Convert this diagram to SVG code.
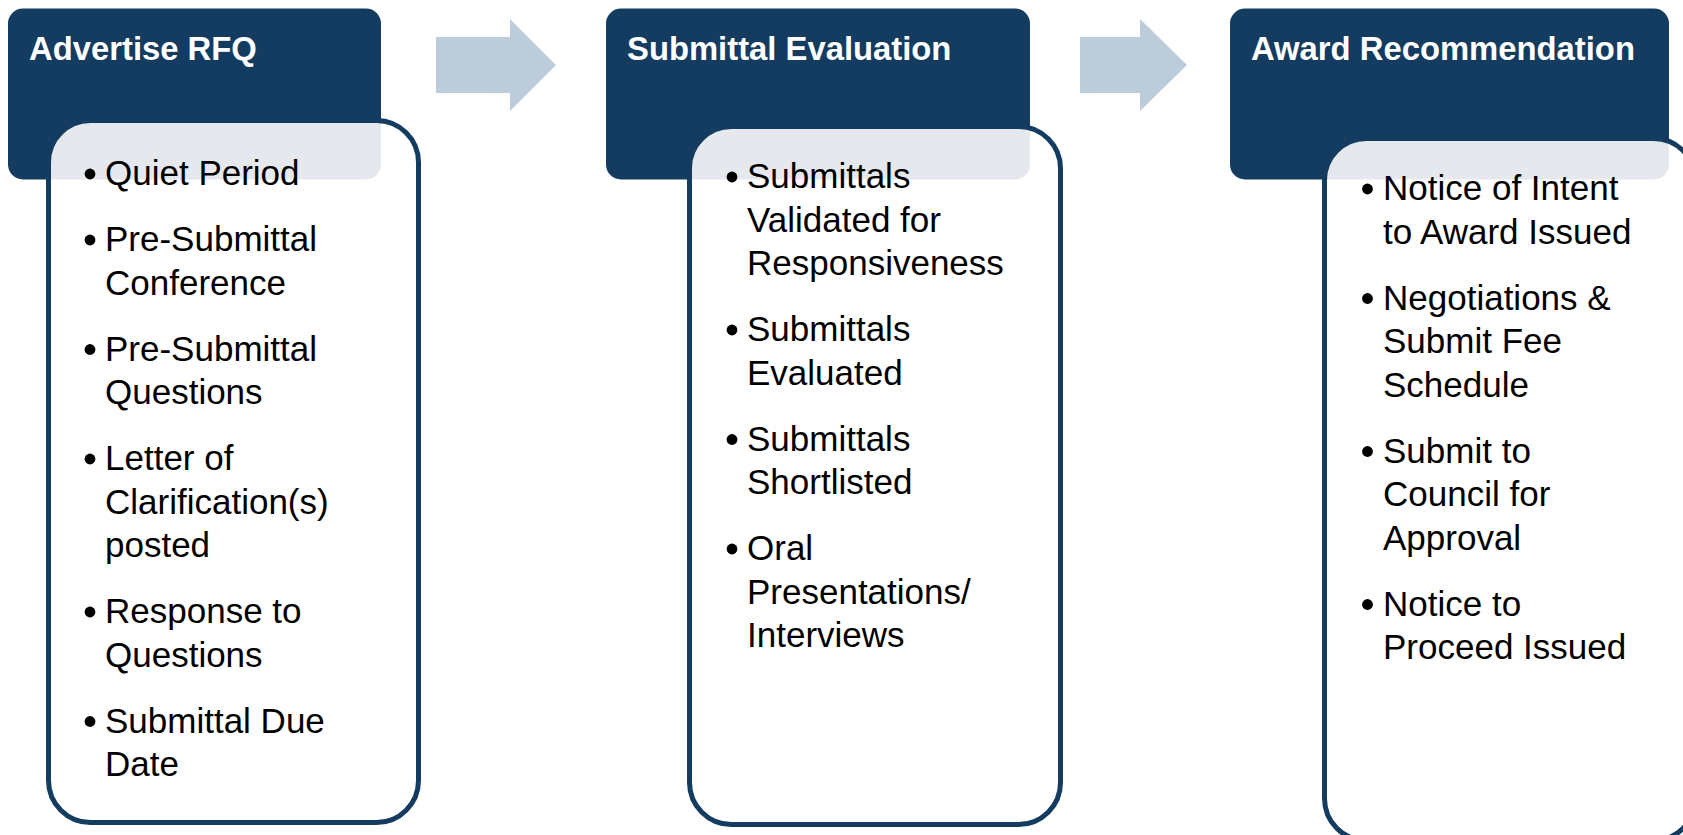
<svg xmlns="http://www.w3.org/2000/svg" width="1683" height="835" viewBox="0 0 1683 835">
<style>
.hdr{fill:#143C61}
.card{fill:#FFFFFF;fill-opacity:0.89;stroke:#143C61;stroke-width:5}
.arrow{fill:#BDCCDA}
.title{font-family:"Liberation Sans",Arial,sans-serif;font-weight:bold;font-size:32.8px;fill:#FFFFFF}
.body{font-family:"Liberation Sans",Arial,sans-serif;font-size:35px;fill:#000000}
.dot{fill:#000000}
</style>
<rect width="1683" height="835" fill="#FFFFFF"/>
<g id="connectors">
<polygon class="arrow" points="436,37 510,37 510,19 556,65 510,111 510,93 436,93"/>
<polygon class="arrow" points="1080,37 1140,37 1140,19 1187,65 1140,111 1140,93 1080,93"/>
</g>
<g id="advertise-rfq">
<rect class="hdr" x="8" y="8.5" width="373" height="171" rx="15"/>
<text class="title" x="29" y="60">Advertise RFQ</text>
<rect class="card" x="48.5" y="120.5" width="370" height="702" rx="42"/>
<g class="body">
<circle class="dot" cx="90" cy="174" r="5.4"/><text x="105" y="185">Quiet Period</text>
<circle class="dot" cx="90" cy="240" r="5.4"/><text x="105" y="251">Pre-Submittal</text><text x="105" y="294.5">Conference</text>
<circle class="dot" cx="90" cy="349.5" r="5.4"/><text x="105" y="360.5">Pre-Submittal</text><text x="105" y="404">Questions</text>
<circle class="dot" cx="90" cy="459" r="5.4"/><text x="105" y="470">Letter of</text><text x="105" y="513.5">Clarification(s)</text><text x="105" y="557">posted</text>
<circle class="dot" cx="90" cy="612" r="5.4"/><text x="105" y="623">Response to</text><text x="105" y="666.5">Questions</text>
<circle class="dot" cx="90" cy="721.5" r="5.4"/><text x="105" y="732.5">Submittal Due</text><text x="105" y="776">Date</text>
</g>
</g>
<g id="submittal-evaluation">
<rect class="hdr" x="606" y="8.5" width="424" height="171" rx="15"/>
<text class="title" x="627" y="60">Submittal Evaluation</text>
<rect class="card" x="689.5" y="126.5" width="371" height="698" rx="42"/>
<g class="body">
<circle class="dot" cx="732" cy="177" r="5.4"/><text x="747" y="188">Submittals</text><text x="747" y="231.5">Validated for</text><text x="747" y="275">Responsiveness</text>
<circle class="dot" cx="732" cy="330" r="5.4"/><text x="747" y="341">Submittals</text><text x="747" y="384.5">Evaluated</text>
<circle class="dot" cx="732" cy="439.5" r="5.4"/><text x="747" y="450.5">Submittals</text><text x="747" y="494">Shortlisted</text>
<circle class="dot" cx="732" cy="549" r="5.4"/><text x="747" y="560">Oral</text><text x="747" y="603.5">Presentations/</text><text x="747" y="647">Interviews</text>
</g>
</g>
<g id="award-recommendation">
<rect class="hdr" x="1230" y="8.5" width="439" height="171" rx="15"/>
<text class="title" x="1251" y="60">Award Recommendation</text>
<rect class="card" x="1324.5" y="138.5" width="371" height="702" rx="42"/>
<g class="body">
<circle class="dot" cx="1367.5" cy="189" r="5.4"/><text x="1383" y="200">Notice of Intent</text><text x="1383" y="243.5">to Award Issued</text>
<circle class="dot" cx="1367.5" cy="298.5" r="5.4"/><text x="1383" y="309.5">Negotiations &amp;</text><text x="1383" y="353">Submit Fee</text><text x="1383" y="396.5">Schedule</text>
<circle class="dot" cx="1367.5" cy="451.5" r="5.4"/><text x="1383" y="462.5">Submit to</text><text x="1383" y="506">Council for</text><text x="1383" y="549.5">Approval</text>
<circle class="dot" cx="1367.5" cy="604.5" r="5.4"/><text x="1383" y="615.5">Notice to</text><text x="1383" y="659">Proceed Issued</text>
</g>
</g>
</svg>
